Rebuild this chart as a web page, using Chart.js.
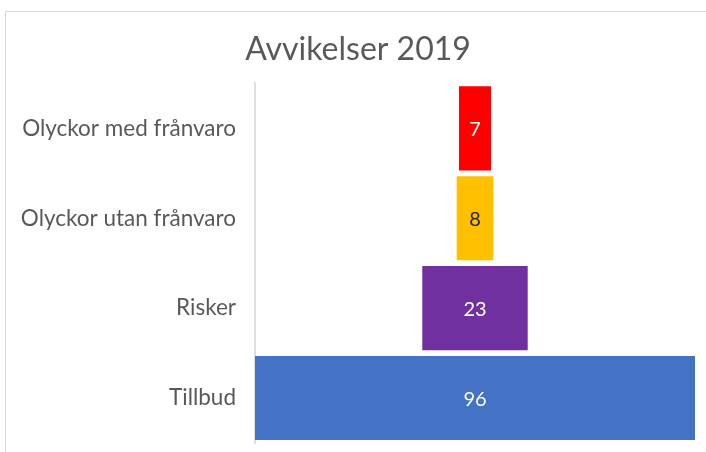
<!DOCTYPE html>
<html>
<head>
<meta charset="utf-8">
<script src="https://cdn.jsdelivr.net/npm/chart.js@4.4.1/dist/chart.umd.min.js"></script>
<style>
  html, body { margin: 0; padding: 0; background: #fff; overflow: hidden; }
  #wrap { position: relative; width: 706px; height: 452px; }
  #frame { position: absolute; left: 5px; top: 11px; width: 720px; height: 460px;
           border-top: 1px solid #d9d9d9; border-left: 1px solid #d9d9d9; }
  canvas { position: absolute; left: 0; top: 0; }
</style>
</head>
<body>
<div id="wrap">
  <div id="frame"></div>
  <canvas id="chart" width="706" height="452"></canvas>
</div>
<script>
// Avvikelser 2019 — trattdiagram
const categories = ['Olyckor med frånvaro', 'Olyckor utan frånvaro', 'Risker', 'Tillbud'];
const values = [7, 8, 23, 96];
const barColors = ['#FF0000', '#FFC000', '#7030A0', '#4472C4'];
const labelColors = ['#FFFFFF', '#262626', '#FFFFFF', '#FFFFFF'];

const maxVal = Math.max(...values);
// tratt: varje stapel centreras kring mitten
const floating = values.map(v => [(maxVal - v) / 2, (maxVal + v) / 2]);

const FONT = "Lato, 'Open Sans', sans-serif";

const valueLabels = {
  id: 'valueLabels',
  afterDatasetsDraw(chart) {
    const ctx = chart.ctx;
    const meta = chart.getDatasetMeta(0);
    ctx.save();
    ctx.font = '20px ' + FONT;
    ctx.textAlign = 'center';
    ctx.textBaseline = 'middle';
    meta.data.forEach((bar, i) => {
      const p = bar.getCenterPoint();
      ctx.fillStyle = labelColors[i];
      ctx.fillText(String(values[i]), p.x, p.y + 1);
    });
    ctx.restore();
  }
};

new Chart(document.getElementById('chart'), {
  type: 'bar',
  data: {
    labels: categories,
    datasets: [{
      data: floating,
      backgroundColor: barColors,
      borderWidth: 0,
      barPercentage: 0.935,
      categoryPercentage: 1
    }]
  },
  options: {
    indexAxis: 'y',
    responsive: false,
    animation: false,
    layout: { padding: { left: 21, right: 11, top: 11, bottom: 9 } },
    plugins: {
      legend: { display: false },
      tooltip: { enabled: false },
      title: {
        display: true,
        text: 'Avvikelser 2019',
        color: '#595959',
        font: { size: 32, family: FONT, weight: 'normal' },
        padding: { top: 19, bottom: 15 }
      }
    },
    scales: {
      x: { display: false, min: 0, max: maxVal },
      y: {
        afterFit(s) { s.width = 234; s.paddingTop = 0; s.paddingBottom = 0; },
        grid: { display: false },
        border: { display: true, color: '#dedede', width: 2 },
        ticks: {
          color: '#595959',
          padding: 11,
          font: { size: 22.5, family: FONT }
        }
      }
    }
  },
  plugins: [valueLabels]
});
</script>
</body>
</html>
